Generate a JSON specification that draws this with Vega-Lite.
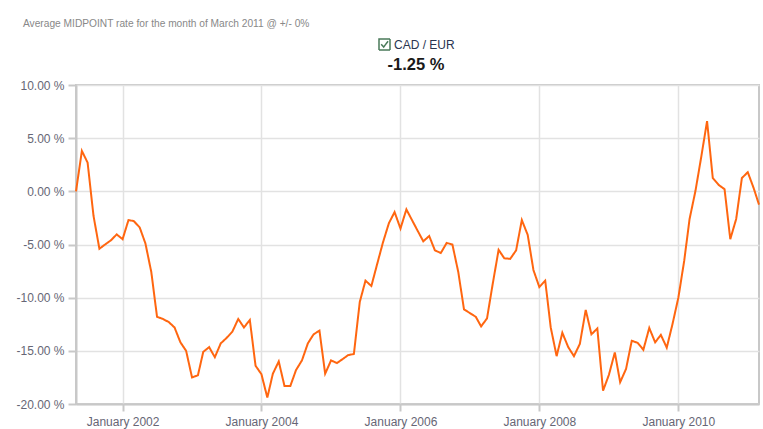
{
  "$schema": "https://vega.github.io/schema/vega-lite/v6.json",
  "width": 683,
  "height": 319,
  "autosize": "none",
  "padding": {"left": 76, "top": 85, "right": 4, "bottom": 25},
  "background": "white",
  "title": {
    "text": "Average MIDPOINT rate for the month of March 2011 @ +/- 0%",
    "anchor": "start",
    "frame": "group",
    "dx": -53,
    "dy": -5,
    "fontSize": 10.2,
    "fontWeight": "normal",
    "font": "Liberation Sans",
    "color": "#888888"
  },
  "data": {
    "values": [
      {"date": "2001-05-01", "change": 0, "pair": "CAD / EUR"},
      {"date": "2001-06-01", "change": 3.8, "pair": "CAD / EUR"},
      {"date": "2001-07-01", "change": 2.7, "pair": "CAD / EUR"},
      {"date": "2001-08-01", "change": -2.3, "pair": "CAD / EUR"},
      {"date": "2001-09-01", "change": -5.4, "pair": "CAD / EUR"},
      {"date": "2001-10-01", "change": -5.0, "pair": "CAD / EUR"},
      {"date": "2001-11-01", "change": -4.6, "pair": "CAD / EUR"},
      {"date": "2001-12-01", "change": -4.05, "pair": "CAD / EUR"},
      {"date": "2002-01-01", "change": -4.5, "pair": "CAD / EUR"},
      {"date": "2002-02-01", "change": -2.7, "pair": "CAD / EUR"},
      {"date": "2002-03-01", "change": -2.8, "pair": "CAD / EUR"},
      {"date": "2002-04-01", "change": -3.4, "pair": "CAD / EUR"},
      {"date": "2002-05-01", "change": -4.9, "pair": "CAD / EUR"},
      {"date": "2002-06-01", "change": -7.6, "pair": "CAD / EUR"},
      {"date": "2002-07-01", "change": -11.8, "pair": "CAD / EUR"},
      {"date": "2002-08-01", "change": -12.0, "pair": "CAD / EUR"},
      {"date": "2002-09-01", "change": -12.3, "pair": "CAD / EUR"},
      {"date": "2002-10-01", "change": -12.8, "pair": "CAD / EUR"},
      {"date": "2002-11-01", "change": -14.2, "pair": "CAD / EUR"},
      {"date": "2002-12-01", "change": -15.0, "pair": "CAD / EUR"},
      {"date": "2003-01-01", "change": -17.5, "pair": "CAD / EUR"},
      {"date": "2003-02-01", "change": -17.3, "pair": "CAD / EUR"},
      {"date": "2003-03-01", "change": -15.1, "pair": "CAD / EUR"},
      {"date": "2003-04-01", "change": -14.65, "pair": "CAD / EUR"},
      {"date": "2003-05-01", "change": -15.6, "pair": "CAD / EUR"},
      {"date": "2003-06-01", "change": -14.3, "pair": "CAD / EUR"},
      {"date": "2003-07-01", "change": -13.8, "pair": "CAD / EUR"},
      {"date": "2003-08-01", "change": -13.2, "pair": "CAD / EUR"},
      {"date": "2003-09-01", "change": -12.0, "pair": "CAD / EUR"},
      {"date": "2003-10-01", "change": -12.8, "pair": "CAD / EUR"},
      {"date": "2003-11-01", "change": -12.1, "pair": "CAD / EUR"},
      {"date": "2003-12-01", "change": -16.4, "pair": "CAD / EUR"},
      {"date": "2004-01-01", "change": -17.2, "pair": "CAD / EUR"},
      {"date": "2004-02-01", "change": -19.4, "pair": "CAD / EUR"},
      {"date": "2004-03-01", "change": -17.15, "pair": "CAD / EUR"},
      {"date": "2004-04-01", "change": -16.0, "pair": "CAD / EUR"},
      {"date": "2004-05-01", "change": -18.3, "pair": "CAD / EUR"},
      {"date": "2004-06-01", "change": -18.3, "pair": "CAD / EUR"},
      {"date": "2004-07-01", "change": -16.8, "pair": "CAD / EUR"},
      {"date": "2004-08-01", "change": -15.9, "pair": "CAD / EUR"},
      {"date": "2004-09-01", "change": -14.3, "pair": "CAD / EUR"},
      {"date": "2004-10-01", "change": -13.45, "pair": "CAD / EUR"},
      {"date": "2004-11-01", "change": -13.1, "pair": "CAD / EUR"},
      {"date": "2004-12-01", "change": -17.15, "pair": "CAD / EUR"},
      {"date": "2005-01-01", "change": -15.9, "pair": "CAD / EUR"},
      {"date": "2005-02-01", "change": -16.15, "pair": "CAD / EUR"},
      {"date": "2005-03-01", "change": -15.8, "pair": "CAD / EUR"},
      {"date": "2005-04-01", "change": -15.4, "pair": "CAD / EUR"},
      {"date": "2005-05-01", "change": -15.3, "pair": "CAD / EUR"},
      {"date": "2005-06-01", "change": -10.4, "pair": "CAD / EUR"},
      {"date": "2005-07-01", "change": -8.4, "pair": "CAD / EUR"},
      {"date": "2005-08-01", "change": -8.9, "pair": "CAD / EUR"},
      {"date": "2005-09-01", "change": -6.8, "pair": "CAD / EUR"},
      {"date": "2005-10-01", "change": -4.8, "pair": "CAD / EUR"},
      {"date": "2005-11-01", "change": -3.0, "pair": "CAD / EUR"},
      {"date": "2005-12-01", "change": -1.95, "pair": "CAD / EUR"},
      {"date": "2006-01-01", "change": -3.5, "pair": "CAD / EUR"},
      {"date": "2006-02-01", "change": -1.7, "pair": "CAD / EUR"},
      {"date": "2006-03-01", "change": -2.65, "pair": "CAD / EUR"},
      {"date": "2006-04-01", "change": -3.7, "pair": "CAD / EUR"},
      {"date": "2006-05-01", "change": -4.7, "pair": "CAD / EUR"},
      {"date": "2006-06-01", "change": -4.2, "pair": "CAD / EUR"},
      {"date": "2006-07-01", "change": -5.55, "pair": "CAD / EUR"},
      {"date": "2006-08-01", "change": -5.8, "pair": "CAD / EUR"},
      {"date": "2006-09-01", "change": -4.85, "pair": "CAD / EUR"},
      {"date": "2006-10-01", "change": -5.0, "pair": "CAD / EUR"},
      {"date": "2006-11-01", "change": -7.6, "pair": "CAD / EUR"},
      {"date": "2006-12-01", "change": -11.1, "pair": "CAD / EUR"},
      {"date": "2007-01-01", "change": -11.45, "pair": "CAD / EUR"},
      {"date": "2007-02-01", "change": -11.8, "pair": "CAD / EUR"},
      {"date": "2007-03-01", "change": -12.7, "pair": "CAD / EUR"},
      {"date": "2007-04-01", "change": -11.95, "pair": "CAD / EUR"},
      {"date": "2007-05-01", "change": -8.7, "pair": "CAD / EUR"},
      {"date": "2007-06-01", "change": -5.5, "pair": "CAD / EUR"},
      {"date": "2007-07-01", "change": -6.3, "pair": "CAD / EUR"},
      {"date": "2007-08-01", "change": -6.35, "pair": "CAD / EUR"},
      {"date": "2007-09-01", "change": -5.55, "pair": "CAD / EUR"},
      {"date": "2007-10-01", "change": -2.7, "pair": "CAD / EUR"},
      {"date": "2007-11-01", "change": -4.1, "pair": "CAD / EUR"},
      {"date": "2007-12-01", "change": -7.4, "pair": "CAD / EUR"},
      {"date": "2008-01-01", "change": -9.0, "pair": "CAD / EUR"},
      {"date": "2008-02-01", "change": -8.4, "pair": "CAD / EUR"},
      {"date": "2008-03-01", "change": -12.8, "pair": "CAD / EUR"},
      {"date": "2008-04-01", "change": -15.5, "pair": "CAD / EUR"},
      {"date": "2008-05-01", "change": -13.3, "pair": "CAD / EUR"},
      {"date": "2008-06-01", "change": -14.65, "pair": "CAD / EUR"},
      {"date": "2008-07-01", "change": -15.5, "pair": "CAD / EUR"},
      {"date": "2008-08-01", "change": -14.35, "pair": "CAD / EUR"},
      {"date": "2008-09-01", "change": -11.15, "pair": "CAD / EUR"},
      {"date": "2008-10-01", "change": -13.45, "pair": "CAD / EUR"},
      {"date": "2008-11-01", "change": -12.9, "pair": "CAD / EUR"},
      {"date": "2008-12-01", "change": -18.75, "pair": "CAD / EUR"},
      {"date": "2009-01-01", "change": -17.25, "pair": "CAD / EUR"},
      {"date": "2009-02-01", "change": -15.15, "pair": "CAD / EUR"},
      {"date": "2009-03-01", "change": -17.95, "pair": "CAD / EUR"},
      {"date": "2009-04-01", "change": -16.7, "pair": "CAD / EUR"},
      {"date": "2009-05-01", "change": -14.05, "pair": "CAD / EUR"},
      {"date": "2009-06-01", "change": -14.25, "pair": "CAD / EUR"},
      {"date": "2009-07-01", "change": -14.9, "pair": "CAD / EUR"},
      {"date": "2009-08-01", "change": -12.85, "pair": "CAD / EUR"},
      {"date": "2009-09-01", "change": -14.2, "pair": "CAD / EUR"},
      {"date": "2009-10-01", "change": -13.5, "pair": "CAD / EUR"},
      {"date": "2009-11-01", "change": -14.7, "pair": "CAD / EUR"},
      {"date": "2009-12-01", "change": -12.5, "pair": "CAD / EUR"},
      {"date": "2010-01-01", "change": -10.0, "pair": "CAD / EUR"},
      {"date": "2010-02-01", "change": -6.5, "pair": "CAD / EUR"},
      {"date": "2010-03-01", "change": -2.6, "pair": "CAD / EUR"},
      {"date": "2010-04-01", "change": 0.05, "pair": "CAD / EUR"},
      {"date": "2010-05-01", "change": 3.2, "pair": "CAD / EUR"},
      {"date": "2010-06-01", "change": 6.6, "pair": "CAD / EUR"},
      {"date": "2010-07-01", "change": 1.25, "pair": "CAD / EUR"},
      {"date": "2010-08-01", "change": 0.6, "pair": "CAD / EUR"},
      {"date": "2010-09-01", "change": 0.2, "pair": "CAD / EUR"},
      {"date": "2010-10-01", "change": -4.5, "pair": "CAD / EUR"},
      {"date": "2010-11-01", "change": -2.6, "pair": "CAD / EUR"},
      {"date": "2010-12-01", "change": 1.25, "pair": "CAD / EUR"},
      {"date": "2011-01-01", "change": 1.8, "pair": "CAD / EUR"},
      {"date": "2011-02-01", "change": 0.3, "pair": "CAD / EUR"},
      {"date": "2011-03-01", "change": -1.25, "pair": "CAD / EUR"}
    ]
  },
  "mark": {"type": "line", "strokeWidth": 2, "interpolate": "linear", "color": "#ff6610"},
  "encoding": {
    "x": {
      "field": "date",
      "type": "temporal",
      "title": null,
      "scale": {
        "type": "utc",
        "domain": [
          {"year": 2001, "month": 5, "date": 1, "utc": true},
          {"year": 2011, "month": 3, "date": 1, "utc": true}
        ],
        "nice": false
      },
      "axis": {
        "values": [
          {"year": 2002, "month": 1, "date": 1, "utc": true},
          {"year": 2004, "month": 1, "date": 1, "utc": true},
          {"year": 2006, "month": 1, "date": 1, "utc": true},
          {"year": 2008, "month": 1, "date": 1, "utc": true},
          {"year": 2010, "month": 1, "date": 1, "utc": true}
        ],
        "labelExpr": "utcFormat(datum.value, '%B %Y')",
        "tickSize": 7,
        "labelPadding": 5,
        "labelOverlap": false
      }
    },
    "y": {
      "field": "change",
      "type": "quantitative",
      "title": null,
      "scale": {"domain": [-20, 10], "nice": false, "zero": false},
      "axis": {
        "values": [-20, -15, -10, -5, 0, 5, 10],
        "labelExpr": "(datum.value < 0 ? '-' : '') + format(abs(datum.value), '.2f') + ' %'",
        "tickSize": 8,
        "labelPadding": 4
      }
    },
    "strokeDash": {
      "field": "pair",
      "type": "nominal",
      "scale": {"range": [[1, 0]]},
      "legend": {
        "orient": "none",
        "legendX": 302,
        "legendY": -47,
        "title": "-1.25 %",
        "titleOrient": "bottom",
        "titleAnchor": "middle",
        "titleAlign": "center",
        "titleFontSize": 16.5,
        "titleFontWeight": "bold",
        "titleFont": "Liberation Sans",
        "titleColor": "#1a1a1a",
        "titlePadding": 4,
        "labelFontSize": 12,
        "labelFont": "Liberation Sans",
        "labelColor": "#2a3550",
        "labelOffset": 3,
        "symbolType": "M-1,-1H1V1H-1Z M-0.6,-0.05L-0.15,0.45L0.65,-0.6",
        "symbolSize": 121,
        "symbolStrokeWidth": 1.5,
        "symbolStrokeColor": "#4a7a5a",
        "symbolFillColor": "white",
        "encode": {
          "symbols": {
            "update": {
              "stroke": {"value": "#4a7a5a"},
              "fill": {"value": "white"}
            }
          }
        }
      }
    }
  },
  "config": {
    "view": {"stroke": "#c8c8c8", "strokeWidth": 2},
    "axis": {
      "domainColor": "#c8c8c8",
      "domainWidth": 2,
      "tickColor": "#c8c8c8",
      "tickWidth": 2,
      "gridColor": "#e2e2e2",
      "gridWidth": 1.5,
      "labelColor": "#666675",
      "labelFont": "Liberation Sans",
      "labelFontSize": 12
    }
  }
}
